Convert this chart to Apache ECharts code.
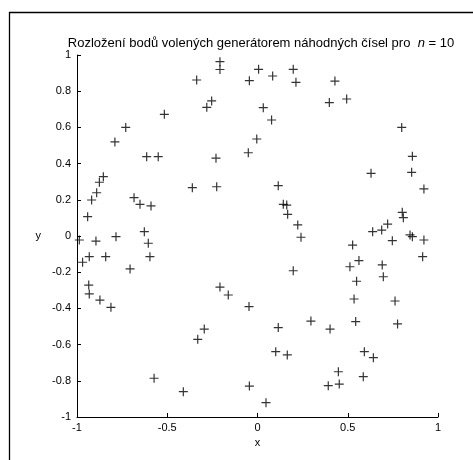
<!DOCTYPE html>
<html>
<head>
<meta charset="utf-8">
<script src="https://cdn.jsdelivr.net/npm/echarts@6/dist/echarts.min.js"></script>
<style>
  html, body { margin: 0; padding: 0; background: #fff; }
  #chart { width: 473px; height: 460px; }
</style>
</head>
<body>
<div id="chart"></div>
<script>
// Point coordinates (x, y) produced by the random generators
const xValues = [
  -0.208, -0.208, -0.337, -0.281, -0.254, -0.516, -0.730, -0.790, -0.614, -0.550,
  -0.230, -0.051, -0.004, 0.006, -0.045, 0.084, 0.198, 0.213, 0.429, 0.398,
  0.494, 0.032, 0.078, 0.799, 0.858, -0.854, -0.876, -0.891, -0.919, -0.941,
  -0.361, -0.226, -0.684, -0.651, -0.590, -0.627, -0.605, -0.596, -0.706, -0.784,
  -0.895, -0.987, -0.932, -0.969, -0.841, -0.935, -0.208, 0.854, 0.922, 0.629,
  0.115, 0.143, 0.162, 0.167, 0.223, 0.241, 0.198, 0.802, 0.808, 0.721,
  0.688, 0.638, 0.747, 0.845, 0.858, 0.922, 0.915, 0.527, 0.562, 0.512,
  0.549, 0.691, 0.697, -0.932, -0.873, -0.812, -0.162, -0.047, -0.295, -0.331,
  -0.573, -0.411, -0.045, 0.535, 0.762, 0.296, 0.402, 0.544, 0.776, 0.115,
  0.101, 0.165, 0.592, 0.642, 0.448, 0.392, 0.453, 0.586, 0.047
];
const yValues = [
  0.963, 0.920, 0.862, 0.711, 0.746, 0.672, 0.600, 0.520, 0.438, 0.438,
  0.430, 0.460, 0.536, 0.921, 0.858, 0.884, 0.921, 0.849, 0.856, 0.737,
  0.757, 0.709, 0.641, 0.600, 0.440, 0.328, 0.297, 0.239, 0.199, 0.107,
  0.267, 0.272, 0.212, 0.175, 0.166, 0.024, -0.040, -0.114, -0.182, -0.004,
  -0.028, -0.022, -0.114, -0.145, -0.114, -0.271, -0.282, 0.352, 0.260, 0.346,
  0.278, 0.175, 0.171, 0.120, 0.061, -0.007, -0.192, 0.131, 0.101, 0.066,
  0.033, 0.024, -0.026, 0.006, -0.004, -0.022, -0.114, -0.050, -0.136, -0.170,
  -0.250, -0.160, -0.225, -0.320, -0.354, -0.394, -0.326, -0.390, -0.514, -0.571,
  -0.786, -0.860, -0.829, -0.348, -0.359, -0.470, -0.514, -0.473, -0.486, -0.506,
  -0.639, -0.657, -0.639, -0.672, -0.750, -0.827, -0.818, -0.777, -0.921
];
const xTicks = [-1, -0.5, 0, 0.5, 1];
const yTicks = [-1, -0.8, -0.6, -0.4, -0.2, 0, 0.2, 0.4, 0.6, 0.8, 1];
const titleMain = 'Rozložení bodů volených generátorem náhodných čísel pro  ';
const titleVar = 'n';
const titleTail = ' = 10';

const points = xValues.map((x, i) => [x, yValues[i]]);
const FONT = 'Liberation Sans, Arial, sans-serif';

// plus-sign marker drawn as a filled cross
const plusPath = 'path://M3.9,0H5.1V3.9H9V5.1H5.1V9H3.9V5.1H0V3.9H3.9Z';

const chart = echarts.init(document.getElementById('chart'), null, { renderer: 'canvas' });

function fmt(v) { return String(Math.round(v * 10) / 10); }

chart.setOption({
  animation: false,
  backgroundColor: '#fff',
  title: {
    text: '{a|' + titleMain + '}{b|' + titleVar + '}{a|' + titleTail + '}',
    left: 256, textAlign: 'center', top: 32,
    textStyle: {
      fontWeight: 'normal',
      rich: {
        a: { fontFamily: FONT, fontSize: 13, fontWeight: 'normal', color: '#000' },
        b: { fontFamily: FONT, fontSize: 13, fontWeight: 'normal', color: '#000', fontStyle: 'italic' }
      }
    }
  },
  graphic: [{
    type: 'rect', silent: true,
    shape: { x: 9.5, y: 12.5, width: 480, height: 470 },
    style: { fill: 'none', stroke: '#000', lineWidth: 1.3 }
  }],
  grid: { left: 77, right: 35, top: 55, bottom: 43 },
  xAxis: {
    type: 'value', min: -1, max: 1, interval: 0.5,
    name: 'x', nameLocation: 'middle', nameGap: 20,
    nameTextStyle: { fontFamily: FONT, fontSize: 11, color: '#000' },
    axisLine: { show: true, onZero: false, lineStyle: { color: '#000', width: 1 } },
    axisTick: { show: true, inside: true, length: 4, lineStyle: { color: '#000' } },
    axisLabel: { fontFamily: FONT, fontSize: 11, color: '#000', margin: 5,
      formatter: v => xTicks.includes(v) ? fmt(v) : '' },
    splitLine: { show: false }
  },
  yAxis: {
    type: 'value', min: -1, max: 1, interval: 0.2,
    name: 'y', nameLocation: 'middle', nameGap: 36, nameRotate: 0,
    nameTextStyle: { fontFamily: FONT, fontSize: 11, color: '#000' },
    axisLine: { show: true, onZero: false, lineStyle: { color: '#000', width: 1 } },
    axisTick: { show: true, inside: true, length: 4, lineStyle: { color: '#000' } },
    axisLabel: { fontFamily: FONT, fontSize: 11, color: '#000', margin: 6,
      formatter: v => fmt(v) },
    splitLine: { show: false }
  },
  series: [{
    type: 'scatter',
    data: points,
    symbol: plusPath,
    symbolSize: 9,
    itemStyle: { color: '#000' }
  }]
});
</script>
</body>
</html>
